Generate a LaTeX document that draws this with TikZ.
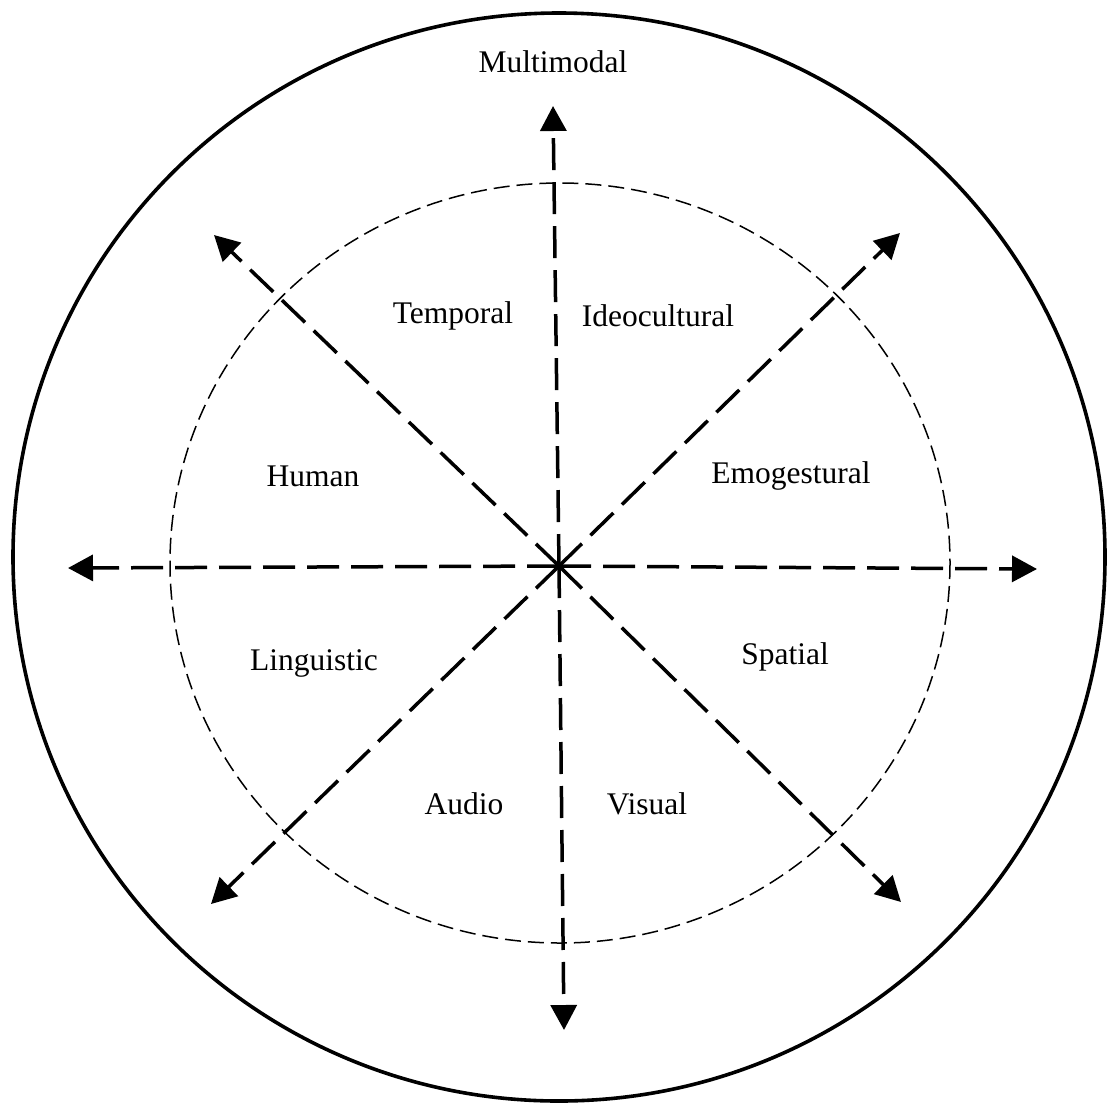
\documentclass[tikz,border=0pt]{standalone}
\usepackage{fontspec}
\setmainfont{Liberation Serif}
\usetikzlibrary{arrows.meta}

\begin{document}
\begin{tikzpicture}[
  x=0.5pt, y=-0.5pt,
  axis/.style={-{Triangle[length=12.5pt,width=13pt]},line width=1.75pt,
    dash pattern=on 16pt off 6pt},
  mode/.style={font=\fontsize{15.75}{19}\selectfont,inner sep=0pt}
]
  \useasboundingbox (0,0) rectangle (1107,1104);
  % rings
  \draw[line width=1.8pt] (559,557) ellipse [x radius=546, y radius=544];
  \draw[line width=0.75pt,dash pattern=on 8pt off 3.5pt] (560,563) ellipse [x radius=390, y radius=380];
  % axes
  \coordinate (hub) at (559,566);
  \coordinate (n) at (553,106);
  \coordinate (s) at (564,1030);
  \coordinate (w) at (68,568);
  \coordinate (e) at (1037,569);
  \coordinate (nw) at (214,235);
  \coordinate (ne) at (900,233);
  \coordinate (sw) at (211,904);
  \coordinate (se) at (901,902);
  \draw[axis] (hub) -- (n);
  \draw[axis] (hub) -- (s);
  \draw[axis] (hub) -- (w);
  \draw[axis] (hub) -- (e);
  \draw[axis] (hub) -- (nw);
  \draw[axis] (hub) -- (ne);
  \draw[axis] (hub) -- (sw);
  \draw[axis] (hub) -- (se);
  % labels
  \node[mode] (multi) at (553,62) {Multimodal};
  \node[mode] (temp) at (453,316) {Temporal};
  \node[mode] (ideo) at (658,316) {Ideocultural};
  \node[mode] (human) at (313,476) {Human};
  \node[mode] (emo) at (791,476) {Emogestural};
  \node[mode] (ling) at (314,663) {Linguistic};
  \node[mode] (spat) at (785,657) {Spatial};
  \node[mode] (audio) at (464,804) {Audio};
  \node[mode] (visual) at (647,804) {Visual};
\end{tikzpicture}
\end{document}
